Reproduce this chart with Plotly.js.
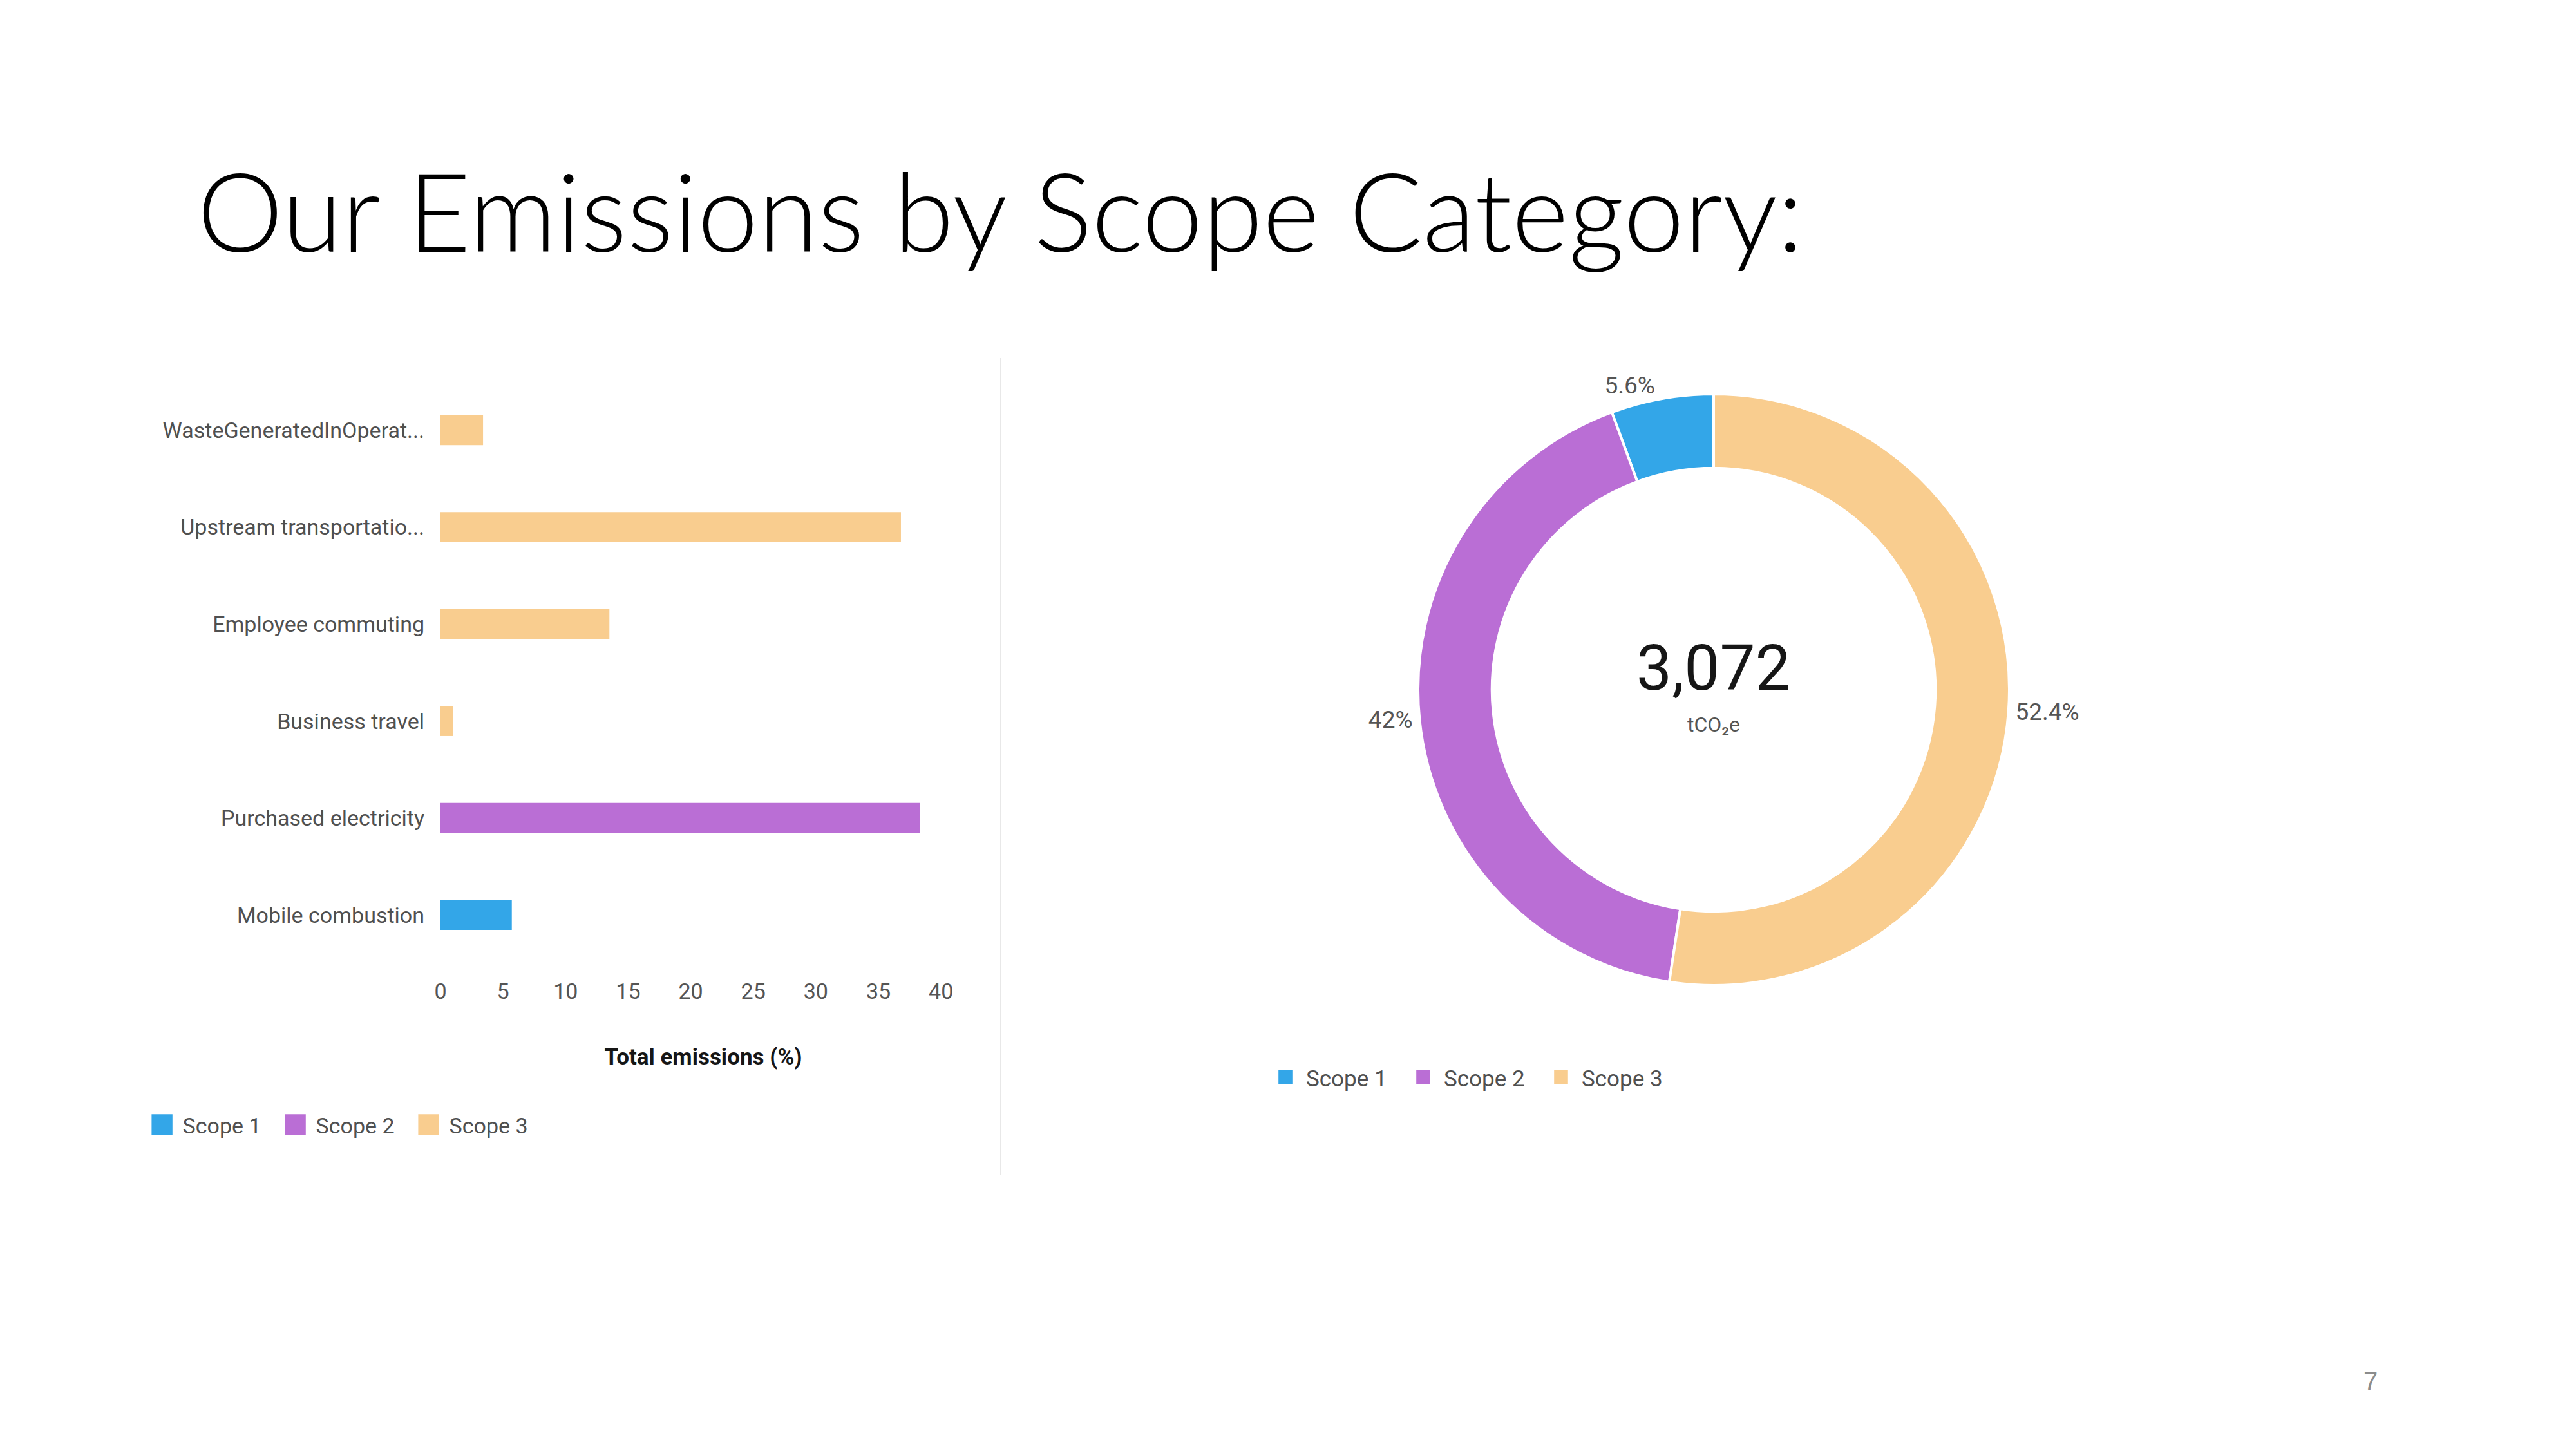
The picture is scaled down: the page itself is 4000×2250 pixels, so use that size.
<!DOCTYPE html>
<html><head><meta charset="utf-8">
<script src="https://cdn.plot.ly/plotly-3.0.1.min.js"></script>
<style>html,body{margin:0;padding:0;background:#fff;} #chart{width:4000px;height:2250px;}</style>
</head><body><div id="chart"></div>
<script>
// ---- data ----
const barCategories = ["WasteGeneratedInOperat...", "Upstream transportatio...", "Employee commuting", "Business travel", "Purchased electricity", "Mobile combustion"];
const barCategoryScopes = ["Scope 3", "Scope 3", "Scope 3", "Scope 3", "Scope 2", "Scope 1"];
const barValues = [3.4, 36.8, 13.5, 1.0, 38.3, 5.7];
const scopeNames = ["Scope 1", "Scope 2", "Scope 3"];
const scopeColors = ["#33A6E8", "#BA6ED5", "#F9CD8F"];
const donutShares = [5.6, 42, 52.4];
const totalEmissions = 3072;
const totalUnit = "tCO₂e";
const xTickValues = [0, 5, 10, 15, 20, 25, 30, 35, 40];
const chartTitle = "Our Emissions by Scope Category:";
const xAxisTitle = "Total emissions (%)";
const pageNumber = "7";

// first slice (Scope 1) should start at 12 o'clock and run counter-clockwise
const shareTotal = donutShares.reduce((a, b) => a + b, 0);
const pieRotation = -donutShares[0] / shareTotal * 360;

// ---- traces ----
const traces = scopeNames.map((scope, i) => {
  const ys = [], xs = [];
  barCategories.forEach((c, j) => { if (barCategoryScopes[j] === scope) { ys.push(c); xs.push(barValues[j]); } });
  return {
    type: 'bar', orientation: 'h', name: scope, x: xs, y: ys,
    marker: {color: scopeColors[i], line: {width: 0}}, width: 0.31,
    xaxis: 'x', yaxis: 'y', legend: 'legend', hoverinfo: 'x+y'
  };
});
traces.push({
  type: 'pie', labels: scopeNames, values: donutShares, hole: 0.75, sort: false,
  direction: 'counterclockwise', rotation: pieRotation,
  marker: {colors: scopeColors, line: {color: '#ffffff', width: 4}},
  textposition: 'outside', texttemplate: '%{value}%',
  textfont: {family: 'Roboto', size: 37, color: '#555555'},
  domain: {x: [0.5505, 0.78], y: [0.32, 0.728]},
  legend: 'legend2', showlegend: true
});

const chartFont = 'Roboto, "Liberation Sans", sans-serif';
const layout = {
  width: 4000, height: 2250,
  margin: {l: 0, r: 0, t: 0, b: 0},
  paper_bgcolor: '#ffffff', plot_bgcolor: '#ffffff',
  font: {family: chartFont, size: 34, color: '#505050'},
  title: {
    text: chartTitle, x: 0.0765, xanchor: 'left', xref: 'paper',
    y: 0.8524, yref: 'paper', yanchor: 'middle',
    font: {family: 'Lato, "Open Sans", sans-serif', size: 169, color: '#000000', weight: 300}
  },
  barmode: 'overlay',
  xaxis: {
    domain: [0.171, 0.375], range: [0, 42], tickvals: xTickValues,
    showgrid: false, zeroline: false, showline: false, ticks: '',
    ticklabelstandoff: 20, tickfont: {size: 34, color: '#555555'},
    title: {text: xAxisTitle, standoff: 70, font: {size: 35, color: '#161616', weight: 'bold'}}
  },
  yaxis: {
    domain: [0.3351, 0.7366], type: 'category', categoryorder: 'array', categoryarray: barCategories,
    range: [5.5, -0.5], showgrid: false, zeroline: false, showline: false, ticks: '',
    ticklabelstandoff: 24, tickfont: {size: 34, color: '#505050'}
  },
  legend: {
    orientation: 'h', x: 0.0549, xanchor: 'left', y: 0.2236, yanchor: 'middle',
    font: {size: 34, color: '#505050'}, itemwidth: 54, entrywidth: 138, entrywidthmode: 'pixels',
    bgcolor: 'rgba(0,0,0,0)', itemclick: false, itemdoubleclick: false
  },
  legend2: {
    orientation: 'h', x: 0.4910, xanchor: 'left', y: 0.2564, yanchor: 'middle',
    font: {size: 35, color: '#505050'}, itemwidth: 54, entrywidth: 145, entrywidthmode: 'pixels',
    bgcolor: 'rgba(0,0,0,0)', itemclick: false, itemdoubleclick: false
  },
  shapes: [{
    type: 'line', xref: 'paper', yref: 'paper', x0: 0.3885, x1: 0.3885, y0: 0.1893, y1: 0.7529,
    line: {color: '#e8e8e8', width: 2}
  }],
  annotations: [
    {text: totalEmissions.toLocaleString('en-US'), x: 0.6653, y: 0.5387, xref: 'paper', yref: 'paper',
     showarrow: false, xanchor: 'center', yanchor: 'middle', font: {family: chartFont, size: 98, color: '#161616'}},
    {text: totalUnit, x: 0.6653, y: 0.5, xref: 'paper', yref: 'paper',
     showarrow: false, xanchor: 'center', yanchor: 'middle', font: {family: chartFont, size: 32, color: '#555555'}},
    {text: pageNumber, x: 0.9203, y: 0.0467, xref: 'paper', yref: 'paper',
     showarrow: false, xanchor: 'center', yanchor: 'middle', font: {family: '"Liberation Sans", sans-serif', size: 40, color: '#8c8c8c'}}
  ],
  showlegend: true
};

Plotly.newPlot('chart', traces, layout, {staticPlot: true, displayModeBar: false}).then(gd => {
  gd.querySelectorAll('g.legendpoints path').forEach(p => {
    const t = p.getAttribute('transform') || '';
    p.setAttribute('transform', t + ' scale(2.7)');
  });
});
</script>
</body></html>
